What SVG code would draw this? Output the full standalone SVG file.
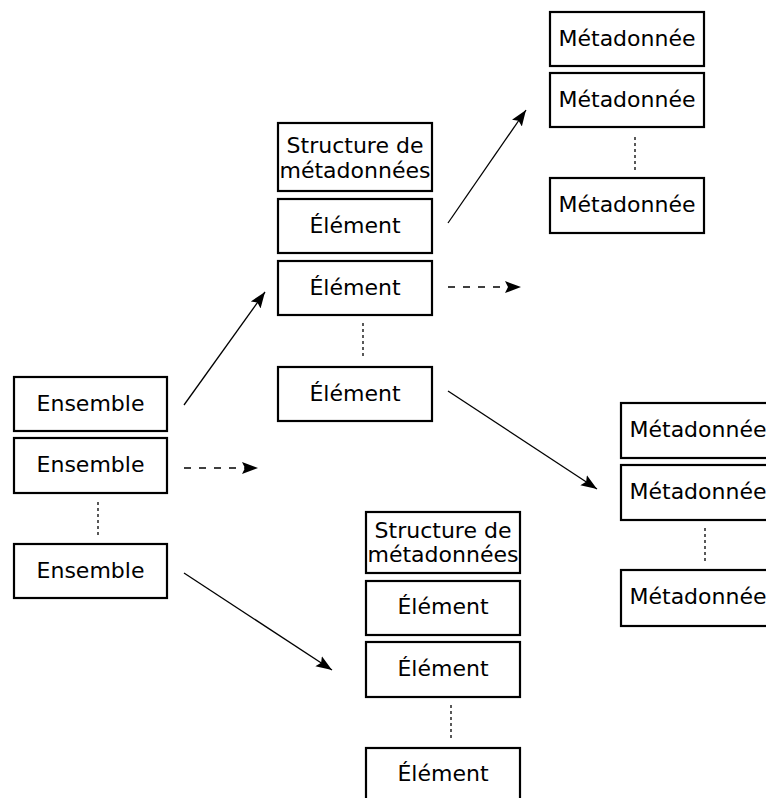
<svg xmlns="http://www.w3.org/2000/svg" width="766" height="798" viewBox="0 0 766 798">
<defs>
<style>
.box{fill:#fff;stroke:#000;stroke-width:2.2}
.t{font-family:"DejaVu Sans",sans-serif;font-size:22px;fill:#000;text-anchor:middle}
.con{stroke:#000;stroke-width:1.3;fill:none}
.dash{stroke-dasharray:7 8}
.dot{stroke:#000;stroke-width:1.3;stroke-dasharray:3 3;fill:none}
</style>
<marker id="ah" markerUnits="userSpaceOnUse" markerWidth="18" markerHeight="14" refX="16" refY="6" orient="auto" viewBox="0 0 18 12">
<path d="M0,0 L16,6 L0,12 L3,6 Z" fill="#000"/>
</marker>
</defs>
<rect width="766" height="798" fill="#fff"/>
<g id="connectors">
<line class="con" x1="184" y1="405" x2="265" y2="292" marker-end="url(#ah)"/>
<line class="con dash" x1="184" y1="468" x2="258" y2="468" marker-end="url(#ah)"/>
<line class="con" x1="184" y1="573" x2="332" y2="670" marker-end="url(#ah)"/>
<line class="con" x1="448" y1="223" x2="526" y2="110" marker-end="url(#ah)"/>
<line class="con dash" x1="448" y1="287" x2="521" y2="287" marker-end="url(#ah)"/>
<line class="con" x1="448" y1="391" x2="597" y2="489" marker-end="url(#ah)"/>
<line class="dot" x1="98" y1="502" x2="98" y2="537"/>
<line class="dot" x1="363" y1="323" x2="363" y2="359"/>
<line class="dot" x1="635" y1="137" x2="635" y2="172"/>
<line class="dot" x1="705" y1="528" x2="705" y2="563"/>
<line class="dot" x1="451" y1="705" x2="451" y2="740"/>
</g>
<g id="ensemble1"><rect class="box" x="14" y="377" width="153" height="54"/><text class="t" x="90.5" y="411">Ensemble</text></g>
<g id="ensemble2"><rect class="box" x="14" y="438" width="153" height="55"/><text class="t" x="90.5" y="472">Ensemble</text></g>
<g id="ensemble3"><rect class="box" x="14" y="544" width="153" height="54"/><text class="t" x="90.5" y="578">Ensemble</text></g>

<g id="struct1"><rect class="box" x="278" y="123" width="154" height="68"/><text class="t" x="355" y="153">Structure de</text><text class="t" x="355" y="178">métadonnées</text></g>
<g id="elem1a"><rect class="box" x="278" y="199" width="154" height="54"/><text class="t" x="355" y="233">Élément</text></g>
<g id="elem1b"><rect class="box" x="278" y="261" width="154" height="54"/><text class="t" x="355" y="295">Élément</text></g>
<g id="elem1c"><rect class="box" x="278" y="367" width="154" height="54"/><text class="t" x="355" y="401">Élément</text></g>

<g id="meta1a"><rect class="box" x="550" y="12" width="154" height="54"/><text class="t" x="627" y="46">Métadonnée</text></g>
<g id="meta1b"><rect class="box" x="550" y="73" width="154" height="54"/><text class="t" x="627" y="107">Métadonnée</text></g>
<g id="meta1c"><rect class="box" x="550" y="178" width="154" height="55"/><text class="t" x="627" y="212">Métadonnée</text></g>

<g id="meta2a"><rect class="box" x="621" y="403" width="154" height="55"/><text class="t" x="698" y="437">Métadonnée</text></g>
<g id="meta2b"><rect class="box" x="621" y="465" width="154" height="55"/><text class="t" x="698" y="499">Métadonnée</text></g>
<g id="meta2c"><rect class="box" x="621" y="570" width="154" height="56"/><text class="t" x="698" y="604">Métadonnée</text></g>

<g id="struct2"><rect class="box" x="366" y="512" width="154" height="61"/><text class="t" x="443" y="538">Structure de</text><text class="t" x="443" y="562">métadonnées</text></g>
<g id="elem2a"><rect class="box" x="366" y="581" width="154" height="54"/><text class="t" x="443" y="614">Élément</text></g>
<g id="elem2b"><rect class="box" x="366" y="642" width="154" height="55"/><text class="t" x="443" y="676">Élément</text></g>
<g id="elem2c"><rect class="box" x="366" y="748" width="154" height="54"/><text class="t" x="443" y="781">Élément</text></g>
</svg>
